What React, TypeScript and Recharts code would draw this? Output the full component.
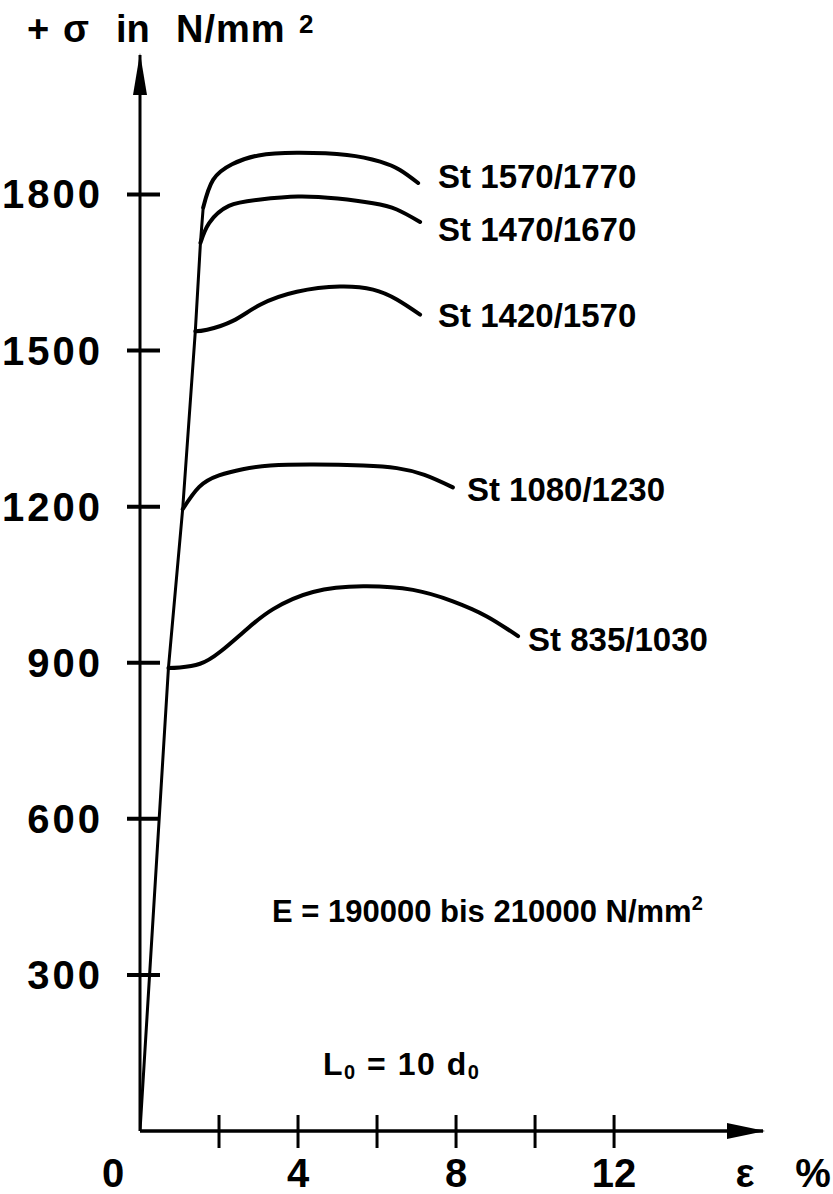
import React from "react";
import { LineChart, Line, XAxis, YAxis, ReferenceDot } from "recharts";

const FONT = '"Liberation Sans", Arial, Helvetica, sans-serif';

// axis ticks
const STRESS_TICKS = [300, 600, 900, 1200, 1500, 1800];
const STRAIN_TICKS = [0, 2, 4, 6, 8, 10, 12];
const STRAIN_LABELS = [0, 4, 8, 12];
const STRAIN_MAX = 15.77;
const STRESS_MAX = 2068;

// elastic (Hooke) line, shared by all grades
const elasticStrain = [0, 0.72, 1.08, 1.4, 1.53, 1.6];
const elasticStress = [0, 890, 1195, 1537, 1707, 1775];

// plastic branches per steel grade
const grades = ["St 1570/1770", "St 1470/1670", "St 1420/1570", "St 1080/1230", "St 835/1030"];

const strain1570 = [1.6, 1.85, 2.33, 3.0, 3.97, 5.24, 6.08, 6.58, 7.04];
const stress1570 = [1775, 1828, 1858, 1875, 1880, 1876, 1863, 1847, 1822];

const strain1470 = [1.53, 1.75, 2.25, 3.0, 4.0, 5.0, 5.9, 6.5, 7.09];
const stress1470 = [1707, 1745, 1778, 1790, 1796, 1792, 1783, 1771, 1747];

const strain1420 = [1.4, 1.7, 2.35, 3.04, 3.97, 5.06, 5.9, 6.5, 7.09];
const stress1420 = [1537, 1540, 1557, 1588, 1613, 1623, 1617, 1598, 1569];

const strain1080 = [1.08, 1.5, 2.0, 2.6, 3.3, 4.4, 5.65, 6.5, 7.2, 7.92];
const stress1080 = [1195, 1238, 1260, 1272, 1279, 1281, 1279, 1274, 1261, 1237];

const strain835 = [0.72, 1.01, 1.52, 2.03, 2.71, 3.37, 4.38, 5.65, 6.91, 7.92, 8.78, 9.57];
const stress835 = [890, 891, 898, 921, 965, 1003, 1036, 1047, 1040, 1018, 989, 951];

const toPoints = (e: number[], s: number[]) => e.map((v, i) => ({ e: v, s: s[i] }));

const series = [
  { name: grades[0], data: toPoints(strain1570, stress1570) },
  { name: grades[1], data: toPoints(strain1470, stress1470) },
  { name: grades[2], data: toPoints(strain1420, stress1420) },
  { name: grades[3], data: toPoints(strain1080, stress1080) },
  { name: grades[4], data: toPoints(strain835, stress835) },
];

// label placement relative to the last point of each curve (px)
const LABEL_OFFSET: Record<string, [number, number]> = {
  "St 1570/1770": [20, 5],
  "St 1470/1670": [18, 19],
  "St 1420/1570": [18, 12],
  "St 1080/1230": [14, 14],
  "St 835/1030": [10, 15],
};

const textStyle = { fontFamily: FONT, fontWeight: 700, fill: "#000" };

function StressTick(props: any) {
  const { x, y, payload } = props;
  return (
    <g>
      <line x1={x - 13} x2={x + 20} y1={y} y2={y} stroke="#000" strokeWidth={4} />
      <text x={x - 37} y={y + 14} textAnchor="end" fontSize={40} letterSpacing={3} {...textStyle}>
        {payload.value}
      </text>
    </g>
  );
}

function StrainTick(props: any) {
  const { x, y, payload } = props;
  const v = payload.value;
  return (
    <g>
      {v > 0 && <line x1={x} x2={x} y1={y - 16} y2={y + 17} stroke="#000" strokeWidth={3} />}
      {STRAIN_LABELS.includes(v) && (
        <text x={v === 0 ? x - 27 : x} y={y + 56} textAnchor="middle" fontSize={40} {...textStyle}>
          {v}
        </text>
      )}
    </g>
  );
}

function curveLabel(name: string, last: number) {
  return (p: any) => {
    if (p.index !== last) return <g key={`l-${p.index}`} />;
    const [dx, dy] = LABEL_OFFSET[name];
    return (
      <text key="lbl" x={p.x + dx} y={p.y + dy} fontSize={33} {...textStyle}>
        {name}
      </text>
    );
  };
}

export default function App() {
  return (
    <div style={{ position: "absolute", left: 0, top: 0, width: 833, height: 1194, background: "#fff" }}>
      <LineChart
        width={833}
        height={1194}
        margin={{ top: 55, right: 70, bottom: 0, left: 0 }}
      >
        <XAxis
          type="number"
          dataKey="e"
          domain={[0, STRAIN_MAX]}
          ticks={STRAIN_TICKS}
          tick={<StrainTick />}
          tickLine={false}
          tickSize={0}
          tickMargin={0}
          height={63}
          axisLine={{ stroke: "#000", strokeWidth: 3.5 }}
          allowDataOverflow
        />
        <YAxis
          type="number"
          dataKey="s"
          domain={[0, STRESS_MAX]}
          ticks={STRESS_TICKS}
          tick={<StressTick />}
          tickLine={false}
          tickSize={0}
          tickMargin={0}
          width={140}
          axisLine={{ stroke: "#000", strokeWidth: 3 }}
          allowDataOverflow
        />
        <Line
          data={toPoints(elasticStrain, elasticStress)}
          dataKey="s"
          type="linear"
          stroke="#000"
          strokeWidth={3}
          dot={false}
          isAnimationActive={false}
        />
        {series.map((sr) => (
          <Line
            key={sr.name}
            data={sr.data}
            dataKey="s"
            type="natural"
            stroke="#000"
            strokeWidth={4}
            strokeLinecap="round"
            dot={false}
            label={curveLabel(sr.name, sr.data.length - 1)}
            isAnimationActive={false}
          />
        ))}
        <ReferenceDot
          x={STRAIN_MAX}
          y={0}
          r={0}
          ifOverflow="visible"
          shape={(p: any) => (
            <polygon
              points={`${p.cx + 2},${p.cy} ${p.cx - 36},${p.cy - 8} ${p.cx - 36},${p.cy + 8}`}
              fill="#000"
            />
          )}
        />
        <ReferenceDot
          x={0}
          y={STRESS_MAX}
          r={0}
          ifOverflow="visible"
          shape={(p: any) => (
            <polygon
              points={`${p.cx},${p.cy - 2} ${p.cx - 7},${p.cy + 40} ${p.cx + 7},${p.cy + 40}`}
              fill="#000"
            />
          )}
        />
      </LineChart>

      <svg
        width={833}
        height={1194}
        style={{ position: "absolute", left: 0, top: 0, pointerEvents: "none" }}
      >
        {/* y-axis title */}
        <text x={27} y={42} fontSize={38} {...textStyle}>
          +
        </text>
        <text x={63} y={42} fontSize={38} {...textStyle}>
          σ
        </text>
        <text x={116} y={42} fontSize={38} {...textStyle}>
          in
        </text>
        <text x={176} y={42} fontSize={38} letterSpacing={1} {...textStyle}>
          N/mm
        </text>
        <text x={299} y={33} fontSize={26} {...textStyle}>
          2
        </text>

        {/* x-axis unit */}
        <text x={745} y={1187} textAnchor="middle" fontSize={40} {...textStyle}>
          ε
        </text>
        <text x={813} y={1187} textAnchor="middle" fontSize={40} {...textStyle}>
          %
        </text>

        {/* annotations */}
        <text x={272} y={922} fontSize={31} {...textStyle}>
          E = 190000 bis 210000 N/mm
          <tspan fontSize={20} dy={-12}>2</tspan>
        </text>
        <text x={323} y={1075} fontSize={32} letterSpacing={1.5} {...textStyle}>
          L<tspan fontSize={20} dy={4}>0</tspan>
          <tspan dy={-4}> = 10 d</tspan>
          <tspan fontSize={20} dy={4}>0</tspan>
        </text>
      </svg>
    </div>
  );
}
